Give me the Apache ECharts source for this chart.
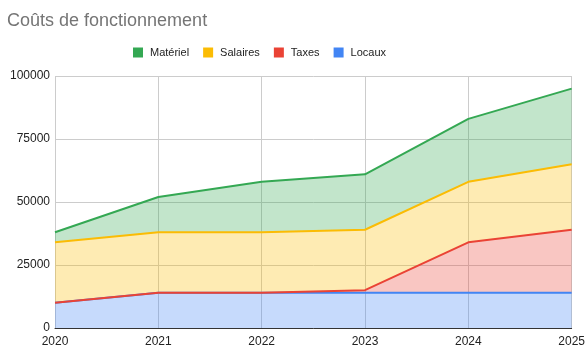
<!DOCTYPE html>
<html><head><meta charset="utf-8">
<script src="https://cdn.jsdelivr.net/npm/echarts@6/dist/echarts.min.js"></script>
<style>html,body{margin:0;padding:0;background:#fff}#c{width:588px;height:361px}</style>
</head><body><div id="c"></div>
<script>
const years = ['2020','2021','2022','2023','2024','2025'];
const locaux = [10000,14000,14000,14000,14000,14000];
const taxes = [0,0,0,1000,20000,25000];
const salaires = [24000,24000,24000,24000,24000,26000];
const materiel = [4000,14000,20000,22000,25000,30000];
const yTicks = [0,25000,50000,75000,100000];

const FONT = '"Liberation Sans", Arial, sans-serif';
const chart = echarts.init(document.getElementById('c'));
function s(name, data, color){
  return {name, type:'line', stack:'total', data, symbol:'none', color,
    lineStyle:{width:2,color}, areaStyle:{color, opacity:0.3}, z: 2};
}
chart.setOption({
  animation:false,
  title:{text:'Coûts de fonctionnement', left:2, top:7,
    textStyle:{fontFamily:FONT, fontSize:18, fontWeight:'normal', color:'#757575'}},
  legend:{top:42, left:128, itemWidth:10, itemHeight:10, itemGap:14,
    data:['Matériel','Salaires','Taxes','Locaux'],
    icon:'rect', textStyle:{fontFamily:FONT, fontSize:11, color:'#222', padding:[0,0,0,2]}},
  grid:{left:55, right:16, top:76, bottom:33, containLabel:false},
  xAxis:{type:'category', data:years, boundaryGap:false,
    axisLine:{lineStyle:{color:'#333'}}, axisTick:{show:false},
    axisLabel:{color:'#222', fontSize:12, fontFamily:FONT, margin:8},
    splitLine:{show:true, lineStyle:{color:'#ccc'}}},
  yAxis:{type:'value', min:0, max:100000, interval:25000,
    axisLine:{show:false}, axisTick:{show:false},
    axisLabel:{color:'#222', fontSize:12, fontFamily:FONT, margin:5,
      formatter:v=>yTicks.includes(v)?String(v):''},
    splitLine:{lineStyle:{color:'#ccc'}}},
  series:[
    s('Locaux', locaux, '#4285f4'),
    s('Taxes', taxes, '#ea4335'),
    s('Salaires', salaires, '#fbbc04'),
    s('Matériel', materiel, '#34a853')
  ]
});
</script></body></html>
